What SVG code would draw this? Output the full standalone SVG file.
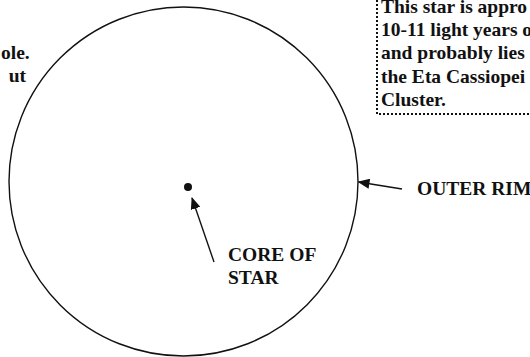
<svg xmlns="http://www.w3.org/2000/svg" width="530" height="357" viewBox="0 0 530 357">
<style>
.t{font-family:"Liberation Serif","Times New Roman",serif;font-weight:bold;font-size:19.5px;fill:#111}
.ln{stroke:#111;stroke-width:1.4;fill:none}
</style>
<defs>
<marker id="ah" markerWidth="12" markerHeight="10" refX="11" refY="5" orient="auto" markerUnits="userSpaceOnUse">
<path d="M0,0 L12,5 L0,10 Z" fill="#111"/>
</marker>
</defs>
<rect width="530" height="357" fill="#fff"/>
<g id="star">
<circle cx="183.5" cy="181.5" r="174.5" class="ln"/>
</g>
<g id="core">
<circle cx="188" cy="187" r="4" fill="#111"/>
</g>
<g id="left-text">
<text class="t" x="1" y="59">ole.</text>
<text class="t" text-anchor="end" x="26" y="82">ut</text>
</g>
<g id="info-box">
<rect x="377" y="-10" width="170" height="124" fill="none" stroke="#111" stroke-width="2" stroke-dasharray="2,2"/>
<text class="t" x="381" y="13">This star is appro</text>
<text class="t" x="381" y="36">10-11 light years o</text>
<text class="t" x="381" y="59">and probably lies</text>
<text class="t" x="381" y="82.5">the Eta Cassiopei</text>
<text class="t" x="381" y="105.5">Cluster.</text>
</g>
<g id="core-label">
<text class="t" x="228" y="261">CORE OF</text>
<text class="t" x="228" y="283.5">STAR</text>
</g>
<g id="rim-label">
<text class="t" x="417" y="195">OUTER RIM</text>
</g>
<g id="connectors">
<line class="ln" x1="214" y1="262" x2="192" y2="198" marker-end="url(#ah)"/>
<line class="ln" x1="402" y1="189" x2="358.5" y2="182" marker-end="url(#ah)"/>
</g>
</svg>
